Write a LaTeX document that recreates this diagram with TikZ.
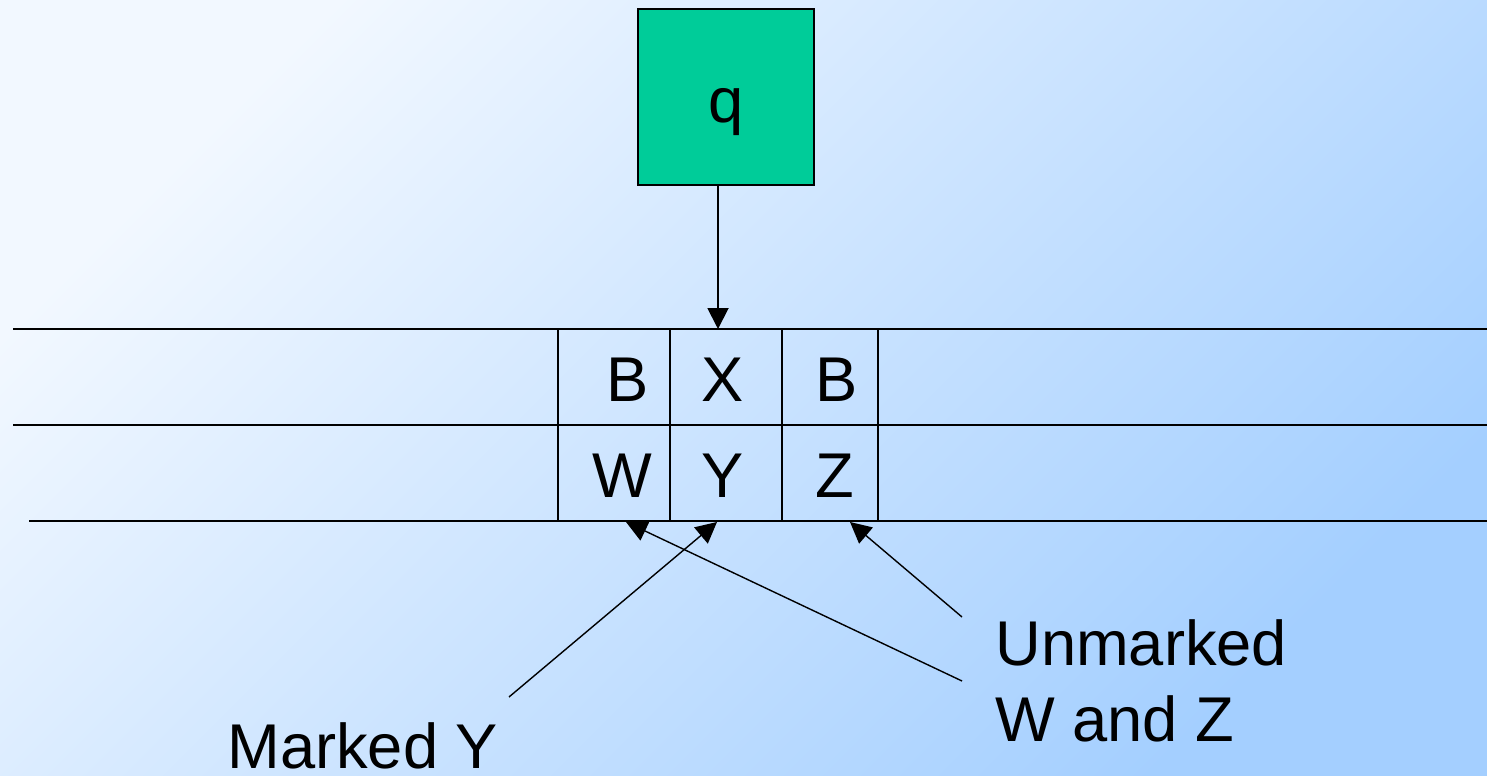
\documentclass[tikz,border=0pt]{standalone}
\usepackage{fontspec}
\setmainfont{Liberation Sans}
\usetikzlibrary{arrows.meta, positioning}
\definecolor{headgreen}{RGB}{0,204,153}
\definecolor{bglight}{RGB}{242,248,255}
\definecolor{bgdark}{RGB}{164,207,255}

\begin{document}
\begin{tikzpicture}[
    x=0.02cm, y=-0.02cm,
    >={Triangle[length=0.42cm,width=0.42cm]},
    tape/.style = {line width=1.1pt},
    pointer/.style = {->, line width=0.8pt},
    head/.style = {
      draw,
      line width=1.1pt,
      fill=headgreen,
      minimum width=3.53cm,
      minimum height=3.53cm,
      inner sep=0pt
    },
    sym/.style = {font=\fontsize{36}{43}\selectfont, inner sep=0pt, anchor=base},
    note/.style = {font=\fontsize{36}{43}\selectfont, align=left, inner sep=0pt, anchor=base west}
  ]

  % backdrop
  \shade[top color=bglight, bottom color=bgdark, shading angle=45] (0,0) rectangle (1487,776);
  \useasboundingbox (0,0) rectangle (1487,776);

  % two-track tape
  \draw[tape] (13,329) -- (1487,329);
  \draw[tape] (13,425) -- (1487,425);
  \draw[tape] (29,521) -- (1487,521);
  \foreach \x in {558,670,782,878}
    \draw[tape] (\x,329) -- (\x,521);

  \node[sym] (b1) at (628,402) {B};
  \node[sym] (x1) at (723,402) {X};
  \node[sym] (b2) at (837,402) {B};
  \node[sym] (w1) at (622,498) {W};
  \node[sym] (y1) at (723,498) {Y};
  \node[sym] (z1) at (835,498) {Z};

  \coordinate (xtop) at (718,329);
  \coordinate (wtip) at (626,522);
  \coordinate (ytip) at (717,522);
  \coordinate (ztip) at (850,522);

  % finite control
  \node[head] (state) at (726,97) {};
  \node[sym]  (qname) at (726,123) {q};
  \draw[pointer, tape] ([xshift=-0.16cm]state.south) -- (xtop);

  % annotations
  \node[sym, anchor=base west] (marked) at (227,768) {Marked Y};
  \node[note] (unmarked) at (995,741) {Unmarked\\W and Z};

  \coordinate (mfoot) at (509,697);
  \coordinate (ufootw) at (962,681);
  \coordinate (ufootz) at (962,617);

  \draw[pointer] (mfoot)  -- (ytip);
  \draw[pointer] (ufootw) -- (wtip);
  \draw[pointer] (ufootz) -- (ztip);

\end{tikzpicture}
\end{document}
